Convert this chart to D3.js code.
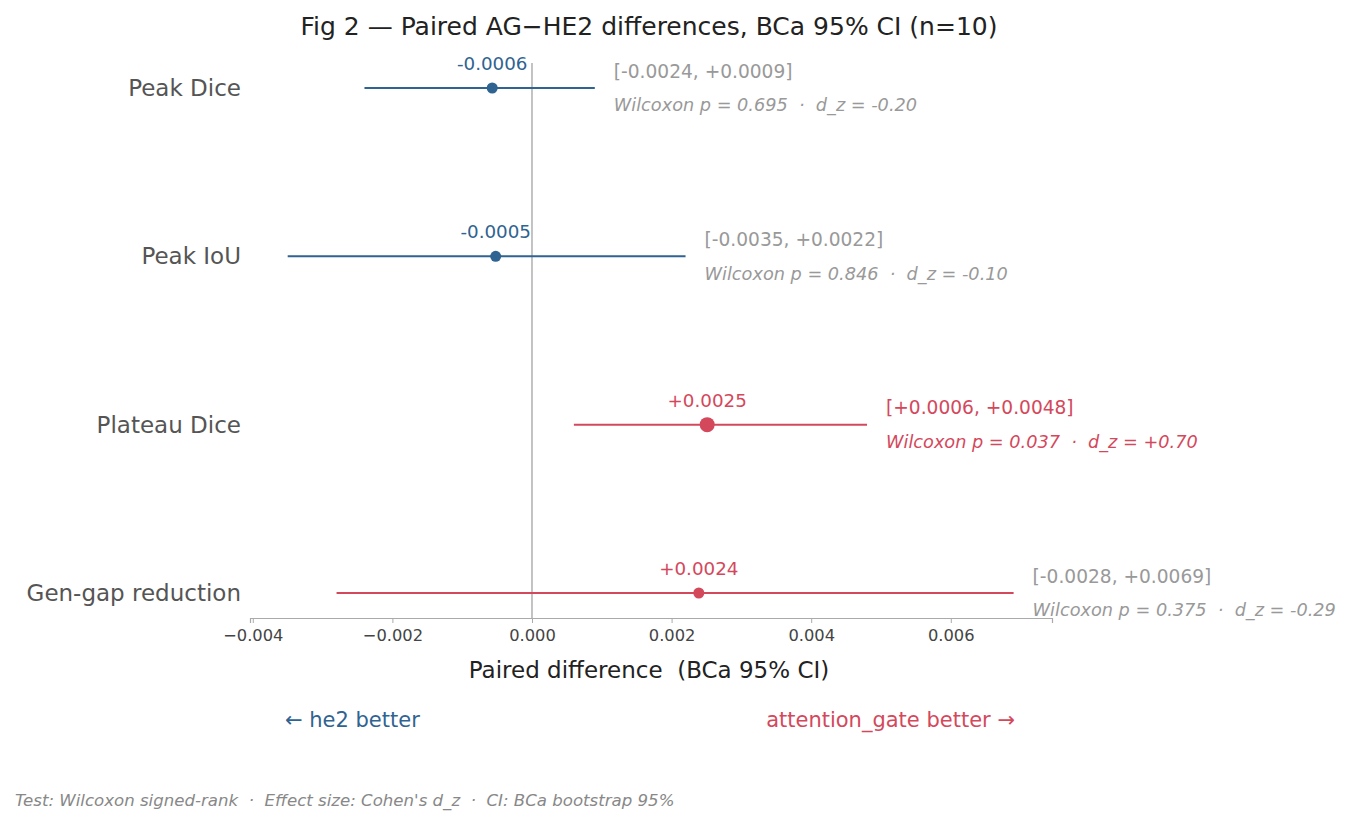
<!DOCTYPE html>
<html>
<head>
<meta charset="utf-8">
<script src="https://cdn.jsdelivr.net/npm/d3@7"></script>
<style>
  body { margin: 0; background: #fff; }
  svg { font-family: "DejaVu Sans", sans-serif; }
</style>
</head>
<body>
<script>
// chart values
var metrics = ["Peak Dice", "Peak IoU", "Plateau Dice", "Gen-gap reduction"];
var meanDiff = [-0.00057, -0.00052, 0.00251, 0.00239];
var ciLow = [-0.0024, -0.0035, 0.0006, -0.0028];
var ciHigh = [0.0009, 0.0022, 0.0048, 0.0069];
var pValues = [0.695, 0.846, 0.037, 0.375];
var dzValues = [-0.20, -0.10, 0.70, -0.29];
var xTicks = [-0.004, -0.002, 0.000, 0.002, 0.004, 0.006];

window.onload = drawChart();

function drawChart(){
    var width = 1350, height = 824;
    var blue = "#2f6391", red = "#d4485c", grey = "#999999";

    var svg = d3.select("body").append("svg")
        .attr("width", width)
        .attr("height", height);

    var x = d3.scaleLinear().domain([-0.00404, 0.00745]).range([250, 1052]);
    var y = d3.scalePoint().domain(metrics).range([88, 593]);
    var axisY = 618, topY = 63;

    //build row objects from the arrays
    var rows = metrics.map(function(m, i){
        return {name: m, mean: meanDiff[i], lo: ciLow[i], hi: ciHigh[i], p: pValues[i], dz: dzValues[i]};
    });

    function signed(v, d){ return (v >= 0 ? "+" : "-") + Math.abs(v).toFixed(d); }

    //title
    svg.append("text")
        .attr("x", 649).attr("y", 35)
        .attr("text-anchor", "middle")
        .attr("font-size", 25)
        .attr("fill", "#222")
        .text("Fig 2 \u2014 Paired AG\u2212HE2 differences, BCa 95% CI (n=10)");

    //zero line
    svg.append("line")
        .attr("x1", x(0)).attr("x2", x(0))
        .attr("y1", topY).attr("y2", axisY)
        .attr("stroke", "#aaaaaa").attr("stroke-width", 1.4);

    //bottom axis
    var xAxis = d3.axisBottom(x).tickValues(xTicks).tickFormat(d3.format(".3f")).tickSizeOuter(0).tickSize(5).tickPadding(6);
    var gx = svg.append("g").attr("transform", "translate(0," + axisY + ")").call(xAxis);
    gx.select(".domain").attr("stroke", "#aaaaaa").attr("stroke-width", 1.2);
    gx.selectAll(".tick line").attr("stroke", "#aaaaaa");
    gx.selectAll(".tick text").attr("fill", "#444").attr("font-size", 16.3).attr("font-family", "DejaVu Sans");

    svg.append("text")
        .attr("x", 649).attr("y", 678)
        .attr("text-anchor", "middle")
        .attr("font-size", 23)
        .attr("fill", "#222")
        .style("white-space", "pre")
        .text("Paired difference  (BCa 95% CI)");

    //row labels
    svg.selectAll(".rowLabel").data(rows).enter().append("text")
        .attr("class", "rowLabel")
        .attr("x", 241).attr("y", function(d){ return y(d.name); })
        .attr("dy", "0.35em")
        .attr("text-anchor", "end")
        .attr("font-size", 23)
        .attr("fill", "#555")
        .text(function(d){ return d.name; });

    //CI lines
    svg.selectAll(".ci").data(rows).enter().append("line")
        .attr("class", "ci")
        .attr("x1", function(d){ return x(d.lo); })
        .attr("x2", function(d){ return x(d.hi); })
        .attr("y1", function(d){ return y(d.name); })
        .attr("y2", function(d){ return y(d.name); })
        .attr("stroke", function(d){ return d.mean < 0 ? blue : red; })
        .attr("stroke-width", 2);

    //mean points
    svg.selectAll(".pt").data(rows).enter().append("circle")
        .attr("class", "pt")
        .attr("cx", function(d){ return x(d.mean); })
        .attr("cy", function(d){ return y(d.name); })
        .attr("r", function(d){ return d.p < 0.05 ? 7.5 : 5.5; })
        .attr("fill", function(d){ return d.mean < 0 ? blue : red; });

    //mean labels
    svg.selectAll(".meanLabel").data(rows).enter().append("text")
        .attr("class", "meanLabel")
        .attr("x", function(d){ return x(d.mean); })
        .attr("y", function(d){ return y(d.name) - 18; })
        .attr("text-anchor", "middle")
        .attr("font-size", 18.3)
        .attr("fill", function(d){ return d.mean < 0 ? blue : red; })
        .text(function(d){ return signed(d.mean, 4); });

    //CI text and stats
    svg.selectAll(".ciLabel").data(rows).enter().append("text")
        .attr("class", "ciLabel")
        .attr("x", function(d){ return x(d.hi) + 19; })
        .attr("y", function(d){ return y(d.name) - 17; })
        .attr("dy", "0.35em")
        .attr("font-size", 18.6)
        .attr("fill", function(d){ return d.p < 0.05 ? red : grey; })
        .text(function(d){ return "[" + signed(d.lo, 4) + ", " + signed(d.hi, 4) + "]"; });

    svg.selectAll(".statLabel").data(rows).enter().append("text")
        .attr("class", "statLabel")
        .attr("x", function(d){ return x(d.hi) + 19; })
        .attr("y", function(d){ return y(d.name) + 17; })
        .attr("dy", "0.35em")
        .attr("font-size", 17.7)
        .attr("font-style", "italic")
        .attr("fill", function(d){ return d.p < 0.05 ? red : grey; })
        .style("white-space", "pre")
        .text(function(d){ return "Wilcoxon p = " + d.p.toFixed(3) + "  \u00b7  d_z = " + signed(d.dz, 2); });

    //direction hints
    svg.append("text")
        .attr("x", 285).attr("y", 727)
        .attr("font-size", 21)
        .attr("fill", blue)
        .text("\u2190 he2 better");
    svg.append("text")
        .attr("x", 1015).attr("y", 727)
        .attr("text-anchor", "end")
        .attr("font-size", 21)
        .attr("fill", red)
        .text("attention_gate better \u2192");

    //footer
    svg.append("text")
        .attr("x", 15).attr("y", 806)
        .attr("font-size", 16.6)
        .attr("font-style", "italic")
        .attr("fill", "#888")
        .style("white-space", "pre")
        .text("Test: Wilcoxon signed-rank  \u00b7  Effect size: Cohen's d_z  \u00b7  CI: BCa bootstrap 95%");
}
</script>
</body>
</html>
